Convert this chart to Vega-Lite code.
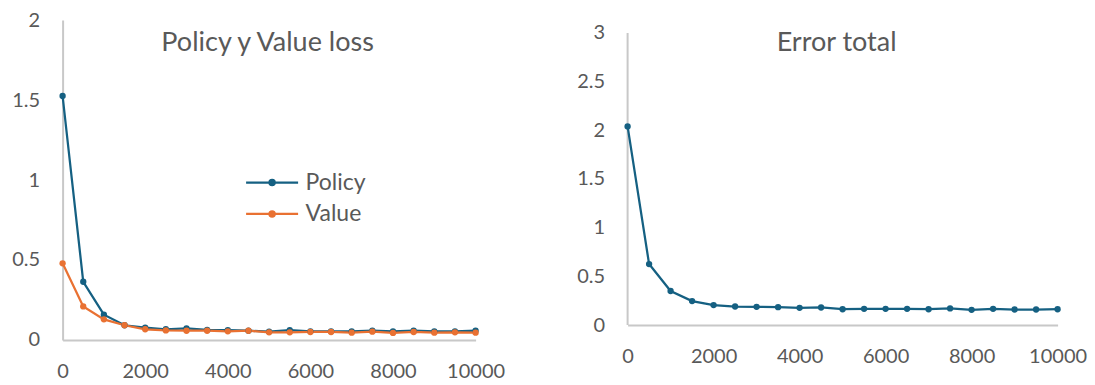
{
  "$schema": "https://vega.github.io/schema/vega-lite/v6.json",
  "background": "white",
  "padding": {"left": 11.6, "top": 10, "right": 5, "bottom": 2},
  "bounds": "flush",
  "spacing": 152,
  "config": {
    "font": "Lato",
    "view": {"stroke": null},
    "axis": {
      "grid": false,
      "ticks": false,
      "tickSize": 0,
      "domainColor": "#c8c8c8",
      "domainWidth": 2,
      "labelColor": "#595959",
      "labelFontSize": 20,
      "labelFont": "Lato",
      "labelFlush": false,
      "labelOverlap": false,
      "title": null
    }
  },
  "hconcat": [
    {
      "width": 413,
      "height": 320,
      "data": {
        "values": [
          {"step": 0, "series": "Policy", "loss": 1.525},
          {"step": 500, "series": "Policy", "loss": 0.364},
          {"step": 1000, "series": "Policy", "loss": 0.158},
          {"step": 1500, "series": "Policy", "loss": 0.092},
          {"step": 2000, "series": "Policy", "loss": 0.077},
          {"step": 2500, "series": "Policy", "loss": 0.067},
          {"step": 3000, "series": "Policy", "loss": 0.073},
          {"step": 3500, "series": "Policy", "loss": 0.063},
          {"step": 4000, "series": "Policy", "loss": 0.062},
          {"step": 4500, "series": "Policy", "loss": 0.058},
          {"step": 5000, "series": "Policy", "loss": 0.052},
          {"step": 5500, "series": "Policy", "loss": 0.062},
          {"step": 6000, "series": "Policy", "loss": 0.054},
          {"step": 6500, "series": "Policy", "loss": 0.054},
          {"step": 7000, "series": "Policy", "loss": 0.054},
          {"step": 7500, "series": "Policy", "loss": 0.058},
          {"step": 8000, "series": "Policy", "loss": 0.054},
          {"step": 8500, "series": "Policy", "loss": 0.058},
          {"step": 9000, "series": "Policy", "loss": 0.054},
          {"step": 9500, "series": "Policy", "loss": 0.054},
          {"step": 10000, "series": "Policy", "loss": 0.058},
          {"step": 0, "series": "Value", "loss": 0.479},
          {"step": 500, "series": "Value", "loss": 0.21},
          {"step": 1000, "series": "Value", "loss": 0.129},
          {"step": 1500, "series": "Value", "loss": 0.092},
          {"step": 2000, "series": "Value", "loss": 0.067},
          {"step": 2500, "series": "Value", "loss": 0.06},
          {"step": 3000, "series": "Value", "loss": 0.058},
          {"step": 3500, "series": "Value", "loss": 0.058},
          {"step": 4000, "series": "Value", "loss": 0.054},
          {"step": 4500, "series": "Value", "loss": 0.058},
          {"step": 5000, "series": "Value", "loss": 0.048},
          {"step": 5500, "series": "Value", "loss": 0.048},
          {"step": 6000, "series": "Value", "loss": 0.05},
          {"step": 6500, "series": "Value", "loss": 0.05},
          {"step": 7000, "series": "Value", "loss": 0.046},
          {"step": 7500, "series": "Value", "loss": 0.052},
          {"step": 8000, "series": "Value", "loss": 0.044},
          {"step": 8500, "series": "Value", "loss": 0.05},
          {"step": 9000, "series": "Value", "loss": 0.046},
          {"step": 9500, "series": "Value", "loss": 0.048},
          {"step": 10000, "series": "Value", "loss": 0.046}
        ]
      },
      "layer": [
        {
          "data": {"values": [{"label": "Policy y Value loss"}]},
          "mark": {"type": "text", "font": "Lato", "fontSize": 27, "color": "#595959", "align": "center", "baseline": "alphabetic"},
          "encoding": {
            "x": {"datum": 4964, "type": "quantitative"},
            "y": {"datum": 1.806, "type": "quantitative"},
            "text": {"field": "label", "type": "nominal"}
          }
        },
        {
          "mark": {
            "type": "line",
            "strokeWidth": 2.25,
            "point": {"size": 40, "filled": true, "opacity": 1}
          },
          "encoding": {
            "x": {"field": "step", "type": "quantitative"},
            "y": {"field": "loss", "type": "quantitative"},
            "color": {
              "field": "series",
              "type": "nominal",
              "scale": {"domain": ["Policy", "Value"], "range": ["#156082", "#E97132"]},
              "legend": {
                "orient": "none",
                "legendX": 195,
                "legendY": 148,
                "title": null,
                "padding": 0,
                "symbolType": "M-2,0L2,0M0.2,0A0.2,0.2 0 1,1 -0.2,0A0.2,0.2 0 1,1 0.2,0",
                "symbolSize": 676,
                "symbolStrokeWidth": 2.25,
                "labelFont": "Lato",
                "labelFontSize": 23,
                "labelColor": "#595959",
                "labelOffset": 19,
                "rowPadding": 4.5,
                "encode": {
                  "symbols": {
                    "update": {
                      "fill": {"signal": "datum.value === 'Policy' ? '#156082' : '#E97132'"},
                      "stroke": {"signal": "datum.value === 'Policy' ? '#156082' : '#E97132'"}
                    }
                  }
                }
              }
            }
          }
        }
      ],
      "encoding": {
        "x": {
          "type": "quantitative",
          "scale": {"domain": [0, 10000], "nice": false},
          "axis": {"values": [0, 2000, 4000, 6000, 8000, 10000], "format": "d", "labelPadding": 22}
        },
        "y": {
          "type": "quantitative",
          "scale": {"domain": [0, 2], "nice": false},
          "axis": {"values": [0, 0.5, 1, 1.5, 2], "format": "~g", "labelPadding": 23}
        }
      }
    },
    {
      "width": 430,
      "height": 320,
      "data": {
        "values": [
          {"step": 0, "total": 2.04},
          {"step": 500, "total": 0.626},
          {"step": 1000, "total": 0.349},
          {"step": 1500, "total": 0.246},
          {"step": 2000, "total": 0.205},
          {"step": 2500, "total": 0.19},
          {"step": 3000, "total": 0.187},
          {"step": 3500, "total": 0.183},
          {"step": 4000, "total": 0.176},
          {"step": 4500, "total": 0.18},
          {"step": 5000, "total": 0.162},
          {"step": 5500, "total": 0.166},
          {"step": 6000, "total": 0.166},
          {"step": 6500, "total": 0.166},
          {"step": 7000, "total": 0.162},
          {"step": 7500, "total": 0.17},
          {"step": 8000, "total": 0.156},
          {"step": 8500, "total": 0.166},
          {"step": 9000, "total": 0.159},
          {"step": 9500, "total": 0.159},
          {"step": 10000, "total": 0.162}
        ]
      },
      "layer": [
        {
          "data": {"values": [{"label": "Error total"}]},
          "mark": {"type": "text", "font": "Lato", "fontSize": 27, "color": "#595959", "align": "center", "baseline": "alphabetic"},
          "encoding": {
            "x": {"datum": 4860, "type": "quantitative"},
            "y": {"datum": 2.81, "type": "quantitative"},
            "text": {"field": "label", "type": "nominal"}
          }
        },
        {
          "data": {"values": [{}]},
          "mark": {"type": "rule", "color": "#c8c8c8", "strokeWidth": 2},
          "encoding": {
            "x": {"datum": 0, "type": "quantitative"},
            "y": {"datum": 0, "type": "quantitative"},
            "y2": {"datum": 3}
          }
        },
        {
          "mark": {
            "type": "line",
            "color": "#156082",
            "strokeWidth": 2.25,
            "point": {"size": 40, "filled": true, "opacity": 1, "color": "#156082"}
          },
          "encoding": {
            "x": {"field": "step", "type": "quantitative"},
            "y": {"field": "total", "type": "quantitative"}
          }
        }
      ],
      "encoding": {
        "x": {
          "type": "quantitative",
          "scale": {"domain": [0, 10000], "nice": false},
          "axis": {"values": [0, 2000, 4000, 6000, 8000, 10000], "format": "d", "labelPadding": 22, "offset": -15}
        },
        "y": {
          "type": "quantitative",
          "scale": {"domain": [-0.154, 3.133], "nice": false, "zero": false},
          "axis": {"values": [0, 0.5, 1, 1.5, 2, 2.5, 3], "format": "~g", "labelPadding": 23, "domain": false}
        }
      }
    }
  ]
}
